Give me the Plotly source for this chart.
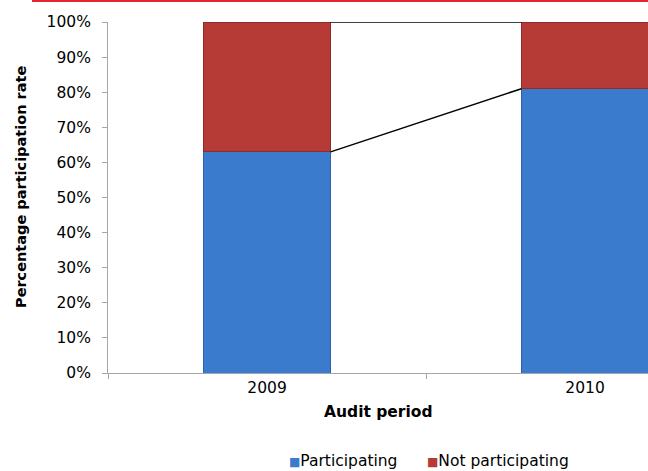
import plotly.graph_objects as go

years = ["2009", "2010"]
participating = [0.63, 0.81]
not_participating = [0.37, 0.19]
series_names = ["Participating", "Not participating"]
colors = ["#3b7bcd", "#b63b37"]
edge_colors = ["#2f63a8", "#8f2c29"]

bar_width = 0.4
xs = list(range(len(years)))
FONT = "DejaVu Sans, Liberation Sans, Arial, sans-serif"

fig = go.Figure()
for vals, name, c, ec in zip([participating, not_participating], series_names, colors, edge_colors):
    fig.add_trace(go.Bar(x=xs, y=vals, name=name, width=bar_width, showlegend=False,
                         marker=dict(color=c, line=dict(color=ec, width=1))))

# series lines connecting stacked tops
cum1 = participating
cum2 = [a + b for a, b in zip(participating, not_participating)]
for cum in (cum1, cum2):
    lx, ly = [], []
    for i in range(len(xs) - 1):
        lx += [xs[i] + bar_width / 2, xs[i + 1] - bar_width / 2, None]
        ly += [cum[i], cum[i + 1], None]
    fig.add_trace(go.Scatter(x=lx, y=ly, mode="lines", line=dict(color="black", width=1.5),
                             showlegend=False, hoverinfo="skip", cliponaxis=False))

PW, PH = 540, 351  # plot area in px

def px_x(px):
    return (px - 108) / PW

def px_y(py):
    return (373 - py) / PH

legend_ann = []
for name, c, xpx in zip(series_names, colors, [287, 425]):
    legend_ann.append(dict(text=f"<span style='color:{c};font-size:12px'>■</span>{name}",
                           xref="paper", yref="paper",
                           x=px_x(xpx), y=px_y(461), showarrow=False, xanchor="left", yanchor="middle",
                           font=dict(size=15.5, family=FONT)))

fig.update_layout(
    barmode="stack",
    width=648, height=471,
    margin=dict(l=108, r=0, t=22, b=98, autoexpand=False),
    paper_bgcolor="white", plot_bgcolor="white",
    font=dict(family=FONT, size=15.5, color="black"),
    showlegend=False,
    xaxis=dict(range=[-0.5, 1.198], tickvals=xs, ticktext=years, ticks="",
               showline=True, linecolor="#a6a6a6", linewidth=1, showgrid=False, zeroline=False,
               automargin=False,
               minor=dict(tickvals=[-0.5, 0.5, 1.5], ticks="outside", ticklen=5, tickcolor="#a6a6a6")),
    yaxis=dict(range=[0, 1], dtick=0.1, tickformat=".0%", ticks="outside", ticklen=5,
               tickcolor="#a6a6a6", showline=True, linecolor="#a6a6a6", linewidth=1,
               showgrid=False, zeroline=False, ticklabelstandoff=8, automargin=False),
    annotations=[
        dict(text="<b>Percentage participation rate</b>", xref="paper", yref="paper",
             x=px_x(21), y=px_y(187), textangle=-90, showarrow=False,
             xanchor="center", yanchor="middle", font=dict(size=14.5)),
        dict(text="<b>Audit period</b>", xref="paper", yref="paper",
             x=0.5, y=px_y(412), showarrow=False,
             xanchor="center", yanchor="middle", font=dict(size=15.5)),
    ] + legend_ann,
)

fig.add_shape(type="line", xref="paper", yref="paper",
              x0=px_x(32), x1=1.0, y0=px_y(1), y1=px_y(1),
              line=dict(color="#e3262e", width=2))

fig.write_html("out.html", config={"displayModeBar": False},
               post_script="document.body.style.margin='0';")
